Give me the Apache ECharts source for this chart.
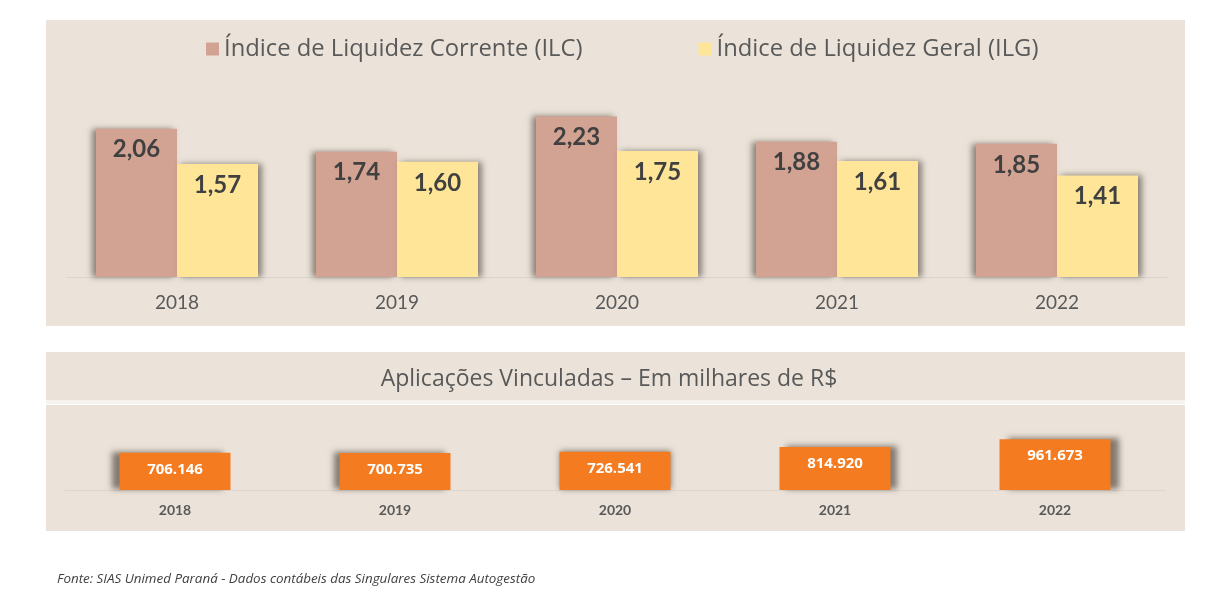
<!DOCTYPE html>
<html>
<head>
<meta charset="utf-8">
<script src="https://cdn.jsdelivr.net/npm/echarts@6/dist/echarts.min.js"></script>
<style>
  html, body { margin: 0; padding: 0; background: #fff; }
  #chart { width: 1218px; height: 610px; }
</style>
</head>
<body>
<div id="chart"></div>
<script>
// dados
var anos = ['2018', '2019', '2020', '2021', '2022'];
var ilc = [2.06, 1.74, 2.23, 1.88, 1.85];
var ilg = [1.57, 1.60, 1.75, 1.61, 1.41];
var aplicacoes = [706146, 700735, 726541, 814920, 961673];
var sombraX = [-8, -6, 0, 6, 8]; // sombra em perspectiva das barras laranja

var bege = '#ebe3d9';
var fonte = 'Lato';

function virgula(v) {
    return v.toFixed(2).replace('.', ',');
}
function milhar(v) {
    return String(v).replace(/\B(?=(\d{3})+(?!\d))/g, '.');
}

var myChart = echarts.init(document.getElementById('chart'));

var option = {
    backgroundColor: '#ffffff',
    animation: false,
    textStyle: { fontFamily: fonte },
    graphic: [
        { type: 'rect', z: -10, shape: { x: 46, y: 20, width: 1139, height: 306 }, style: { fill: bege } },
        { type: 'rect', z: -10, shape: { x: 46, y: 352, width: 1139, height: 48 }, style: { fill: bege } },
        { type: 'rect', z: -10, shape: { x: 46, y: 400, width: 1139, height: 4 }, style: { fill: '#f7f3ee' } },
        { type: 'rect', z: -10, shape: { x: 46, y: 405, width: 1139, height: 126 }, style: { fill: bege } },
        {
            type: 'text', left: 57, top: 573,
            style: {
                text: 'Fonte: SIAS Unimed Paraná - Dados contábeis das Singulares Sistema Autogestão',
                fill: '#404040', font: 'italic 13.4px "Open Sans"'
            }
        }
    ],
    title: {
        text: 'Aplicações Vinculadas – Em milhares de R$',
        left: 'center', top: 363,
        textStyle: { color: '#595959', fontSize: 23, fontWeight: 'normal', fontFamily: 'Open Sans' }
    },
    legend: {
        data: ['Índice de Liquidez Corrente (ILC)', 'Índice de Liquidez Geral (ILG)'],
        left: 201, top: 32,
        itemWidth: 13, itemHeight: 13, itemGap: 116,
        icon: 'rect',
        textStyle: { color: '#595959', fontSize: 23.8, fontFamily: 'Open Sans' }
    },
    grid: [
        { left: 67, right: 51, top: 97, height: 180 },
        { left: 65, right: 53, top: 411, height: 79 }
    ],
    xAxis: [
        {
            type: 'category', gridIndex: 0, data: anos,
            axisLine: { lineStyle: { color: '#d9d5d0' } },
            axisTick: { show: false },
            axisLabel: { color: '#595959', fontSize: 19, margin: 16 }
        },
        {
            type: 'category', gridIndex: 1, data: anos,
            axisLine: { lineStyle: { color: '#dcd6cf' } },
            axisTick: { show: false },
            axisLabel: { color: '#595959', fontSize: 14, fontWeight: 'bold', margin: 13 }
        }
    ],
    yAxis: [
        { type: 'value', gridIndex: 0, min: 0, max: 2.5, show: false },
        { type: 'value', gridIndex: 1, min: 0, max: 1500000, show: false }
    ],
    series: [
        {
            name: 'Índice de Liquidez Corrente (ILC)',
            type: 'bar', xAxisIndex: 0, yAxisIndex: 0,
            data: ilc, barWidth: 81, barGap: '0%',
            itemStyle: {
                color: '#d2a292',
                shadowColor: 'rgba(60,50,40,0.55)', shadowBlur: 6, shadowOffsetX: -4
            },
            label: {
                show: true, position: 'insideTop', distance: 9,
                formatter: function (p) { return virgula(p.value); },
                color: '#404040', fontSize: 24, fontWeight: 'bold'
            }
        },
        {
            name: 'Índice de Liquidez Geral (ILG)',
            type: 'bar', xAxisIndex: 0, yAxisIndex: 0,
            data: ilg, barWidth: 81,
            itemStyle: {
                color: '#ffe597',
                shadowColor: 'rgba(60,50,40,0.55)', shadowBlur: 6, shadowOffsetX: 4
            },
            label: {
                show: true, position: 'insideTop', distance: 9,
                formatter: function (p) { return virgula(p.value); },
                color: '#404040', fontSize: 24, fontWeight: 'bold'
            }
        },
        {
            name: 'Aplicações',
            type: 'bar', xAxisIndex: 1, yAxisIndex: 1,
            barWidth: 111,
            data: aplicacoes.map(function (v, i) {
                return {
                    value: v,
                    itemStyle: {
                        color: '#f47b20',
                        shadowColor: 'rgba(60,50,40,0.6)', shadowBlur: 6,
                        shadowOffsetX: sombraX[i], shadowOffsetY: -1
                    }
                };
            }),
            label: {
                show: true, position: 'insideTop', distance: 9,
                formatter: function (p) { return milhar(p.value); },
                color: '#ffffff', fontSize: 15, fontWeight: 'bold', fontFamily: 'Open Sans'
            }
        }
    ]
};

myChart.setOption(option);
</script>
</body>
</html>
